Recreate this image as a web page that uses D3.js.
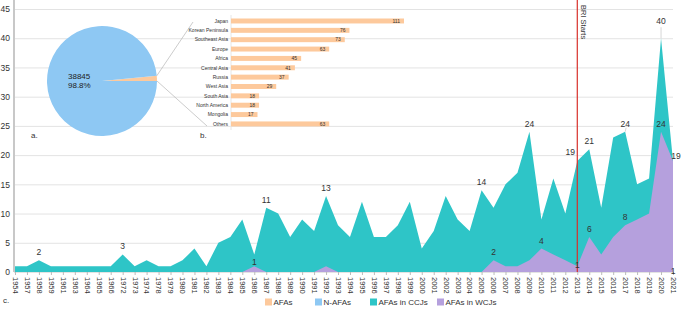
<!DOCTYPE html>
<html>
<head>
<meta charset="utf-8">
<script src="https://cdn.jsdelivr.net/npm/d3@7"></script>
<style>
  body { margin: 0; background: #fff; }
  svg { display: block; font-family: "Liberation Sans", Arial, sans-serif; }
  .grid line { stroke: #e3e3e3; }
  .grid path { display: none; }
  .axisY text { fill: #333; font-size: 8.5px; }
  .axisX text { fill: #333; font-size: 7.5px; }
  .axisX line, .axisX path { stroke: #bbb; }
  .lbl { fill: #333; font-size: 8.5px; text-anchor: middle; }
  .tiny { fill: #333; font-size: 5px; }
</style>
</head>
<body>
<div id="chart"></div>
<script>
// timeline data (c.)
const years = ['1954','1957','1958','1959','1961','1963','1964','1965','1966','1972','1973','1974',
  '1978','1979','1980','1981','1982','1983','1984','1985','1986','1987','1988','1989','1990','1991',
  '1992','1993','1994','1995','1996','1997','1998','1999','2000','2001','2002','2003','2004','2005',
  '2006','2007','2008','2009','2010','2011','2012','2013','2014','2015','2016','2017','2018','2019',
  '2020','2021'];
const ccj = [1,1,2,1,1,1,1,1,1,3,1,2,
  1,1,2,4,1,5,6,9,3,11,10,6,9,7,
  13,8,6,12,6,6,8,12,4,7,13,9,7,14,
  11,15,17,24,9,16,10,19,21,11,23,24,15,16,
  40,19];
const wcj = [0,0,0,0,0,0,0,0,0,0,0,0,
  0,0,0,0,0,0,0,0,1,0,0,0,0,0,
  1,0,0,0,0,0,0,0,0,0,0,0,0,0,
  2,1,1,2,4,3,2,1,6,3,6,8,9,10,
  24,19];
const ccjLabels = [['1958','2'],['1972','3'],['1987','11'],['1992','13'],['2005','14'],['2009','24'],
  ['2013','19'],['2014','21'],['2017','24'],['2020','40'],['2021','19']];
const wcjLabels = [['1986','1'],['2006','2'],['2010','4'],['2013','1'],['2014','6'],['2017','8'],
  ['2020','24'],['2021','1']];
const yTicks = [0,5,10,15,20,25,30,35,40,45];
const briYear = '2013';

// pie (a.)
const pieNames = ['AFAs','N-AFAs'];
const nAfa = 38845;
const pieText = ['38845','98.8%'];

// regions bar (b.)
const regions = ['Japan','Korean Peninsula','Southeast Asia','Europe','Africa','Central Asia',
  'Russia','West Asia','South Asia','North America','Mongolia','Others'];
const regionCounts = [111,76,73,63,45,41,37,29,18,18,17,63];

const legendNames = ['AFAs','N-AFAs','AFAs in CCJs','AFAs in WCJs'];
const colors = {'AFAs':'#fdc99c','N-AFAs':'#8ec8f3','AFAs in CCJs':'#2ec5c7','AFAs in WCJs':'#b5a0dd'};

const W = 682, H = 310;
const svg = d3.select('#chart').append('svg').attr('width', W).attr('height', H);

const x = d3.scalePoint(years, [15, 673]);
const y = d3.scaleLinear([0, 45], [272, 9]);

// grid + y axis
svg.append('g').attr('class', 'grid axisY')
  .attr('transform', 'translate(14,0)')
  .call(d3.axisLeft(y).tickValues(yTicks).tickSize(-659).tickPadding(4))
  .call(g => g.selectAll('.tick line').attr('stroke', '#e3e3e3'));
svg.append('line').attr('x1', 14).attr('x2', 14).attr('y1', 0).attr('y2', 272)
  .attr('stroke', '#c8c8c8').attr('stroke-width', 2);

// areas
const area = vals => d3.area().x((d, i) => x(years[i])).y0(y(0)).y1(d => y(d))(vals);
svg.append('path').attr('d', area(ccj)).attr('fill', colors['AFAs in CCJs']);
svg.append('path').attr('d', area(wcj)).attr('fill', colors['AFAs in WCJs']);

// x axis
svg.append('g').attr('class', 'axisX')
  .attr('transform', `translate(0,${y(0)})`)
  .call(d3.axisBottom(x).tickSize(3).tickSizeOuter(0))
  .call(g => g.select('.domain').remove())
  .selectAll('text')
  .attr('transform', 'rotate(90)')
  .attr('text-anchor', 'start')
  .attr('x', 5).attr('y', 0).attr('dy', '0.35em');

// BRI line
const bx = x(briYear);
svg.append('line').attr('x1', bx).attr('x2', bx).attr('y1', 0).attr('y2', y(0))
  .attr('stroke', '#d8302a').attr('stroke-width', 1.2);
svg.append('text').text('BRI Starts')
  .attr('transform', `translate(${bx + 6},5)rotate(90)`)
  .attr('dy', '0.35em').attr('fill', '#333').style('font-size', '7.5px');

// point labels
const ccjOff = {'2013':[-7,-6],'2021':[3,-2],'2020':[0,-14]};
ccjLabels.forEach(([yr, t]) => {
  const i = years.indexOf(yr), o = ccjOff[yr] || [0, -5];
  svg.append('text').attr('class', 'lbl').text(t)
    .attr('x', x(yr) + o[0]).attr('y', y(ccj[i]) + o[1]);
});
svg.append('line').attr('x1', x('2020')).attr('x2', x('2020'))
  .attr('y1', y(40) - 11).attr('y2', y(40)).attr('stroke', '#bbb').attr('stroke-width', 0.6);
svg.append('line').attr('x1', x('2017')).attr('x2', x('2017') + 1)
  .attr('y1', y(24)).attr('y2', y(24) - 4).attr('stroke', '#bbb').attr('stroke-width', 0.6);
const wcjOff = {'1986':[0,-1],'2013':[0,2],'2021':[0,2]};
wcjLabels.forEach(([yr, t]) => {
  const i = years.indexOf(yr), o = wcjOff[yr] || [0, -5];
  const yy = (yr === '2021') ? y(0) : y(wcj[i]);
  svg.append('text').attr('class', 'lbl').text(t)
    .attr('x', x(yr) + o[0]).attr('y', yy + o[1]);
});

// pie
const afaTotal = d3.sum(regionCounts);
const pieVals = [afaTotal, nAfa];
const frac = afaTotal / (afaTotal + nAfa);
const start = Math.PI / 2 - frac * 2 * Math.PI;
const pie = d3.pie().sort(null).startAngle(start).endAngle(start + 2 * Math.PI);
const arc = d3.arc().innerRadius(0).outerRadius(55);
const pg = svg.append('g').attr('transform', 'translate(102,81)');
pg.selectAll('path').data(pie(pieVals)).join('path')
  .attr('d', arc).attr('fill', (d, i) => colors[pieNames[i]]);
pg.selectAll('text').data(pieText).join('text')
  .attr('x', -34).attr('y', (d, i) => -2 + i * 9)
  .attr('fill', '#222').style('font-size', '8px').text(d => d);

// bars
const yb = d3.scaleBand(regions, [16.3, 128.6]).paddingInner(0.47).paddingOuter(0.235);
const xb = d3.scaleLinear([0, 111], [231, 404]);
const bg = svg.append('g');
bg.append('line').attr('x1', xb(0)).attr('x2', xb(0)).attr('y1', 15).attr('y2', 130)
  .attr('stroke', '#e6e6e6');
bg.selectAll('rect').data(regionCounts).join('rect')
  .attr('x', xb(0)).attr('y', (d, i) => yb(regions[i]))
  .attr('width', d => xb(d) - xb(0)).attr('height', yb.bandwidth())
  .attr('fill', colors['AFAs']);
bg.selectAll('.cat').data(regions).join('text').attr('class', 'tiny cat')
  .attr('x', xb(0) - 3).attr('y', d => yb(d) + yb.bandwidth() / 2)
  .attr('dy', '0.35em').attr('text-anchor', 'end').text(d => d);
bg.selectAll('.val').data(regionCounts).join('text').attr('class', 'tiny val')
  .attr('x', d => xb(d) - 4).attr('y', (d, i) => yb(regions[i]) + yb.bandwidth() / 2)
  .attr('dy', '0.35em').attr('text-anchor', 'end').text(d => d);

// connector lines from slice to bar panel
const a0 = start;
const px = 102 + 55 * Math.sin(a0), py = 81 - 55 * Math.cos(a0);
svg.append('line').attr('x1', px).attr('y1', py).attr('x2', 193).attr('y2', 22)
  .attr('stroke', '#aaa').attr('stroke-width', 0.6);
svg.append('line').attr('x1', 157).attr('y1', 81).attr('x2', 207).attr('y2', 126)
  .attr('stroke', '#aaa').attr('stroke-width', 0.6);

// panel letters
[['a.', 31, 138], ['b.', 200, 138], ['c.', 3, 303]].forEach(([t, lx, ly]) =>
  svg.append('text').text(t).attr('x', lx).attr('y', ly)
    .attr('fill', '#333').style('font-size', '8px'));

// legend
const legX = [265, 315, 370, 437];
const lg = svg.append('g').selectAll('g').data(legendNames).join('g')
  .attr('transform', (d, i) => `translate(${legX[i]},302)`);
lg.append('rect').attr('x', 0).attr('y', -3.5).attr('width', 7).attr('height', 7)
  .attr('fill', d => colors[d]);
lg.append('text').attr('x', 8.5).attr('dy', '0.35em')
  .attr('fill', '#333').style('font-size', '8px').text(d => d);
</script>
</body>
</html>
